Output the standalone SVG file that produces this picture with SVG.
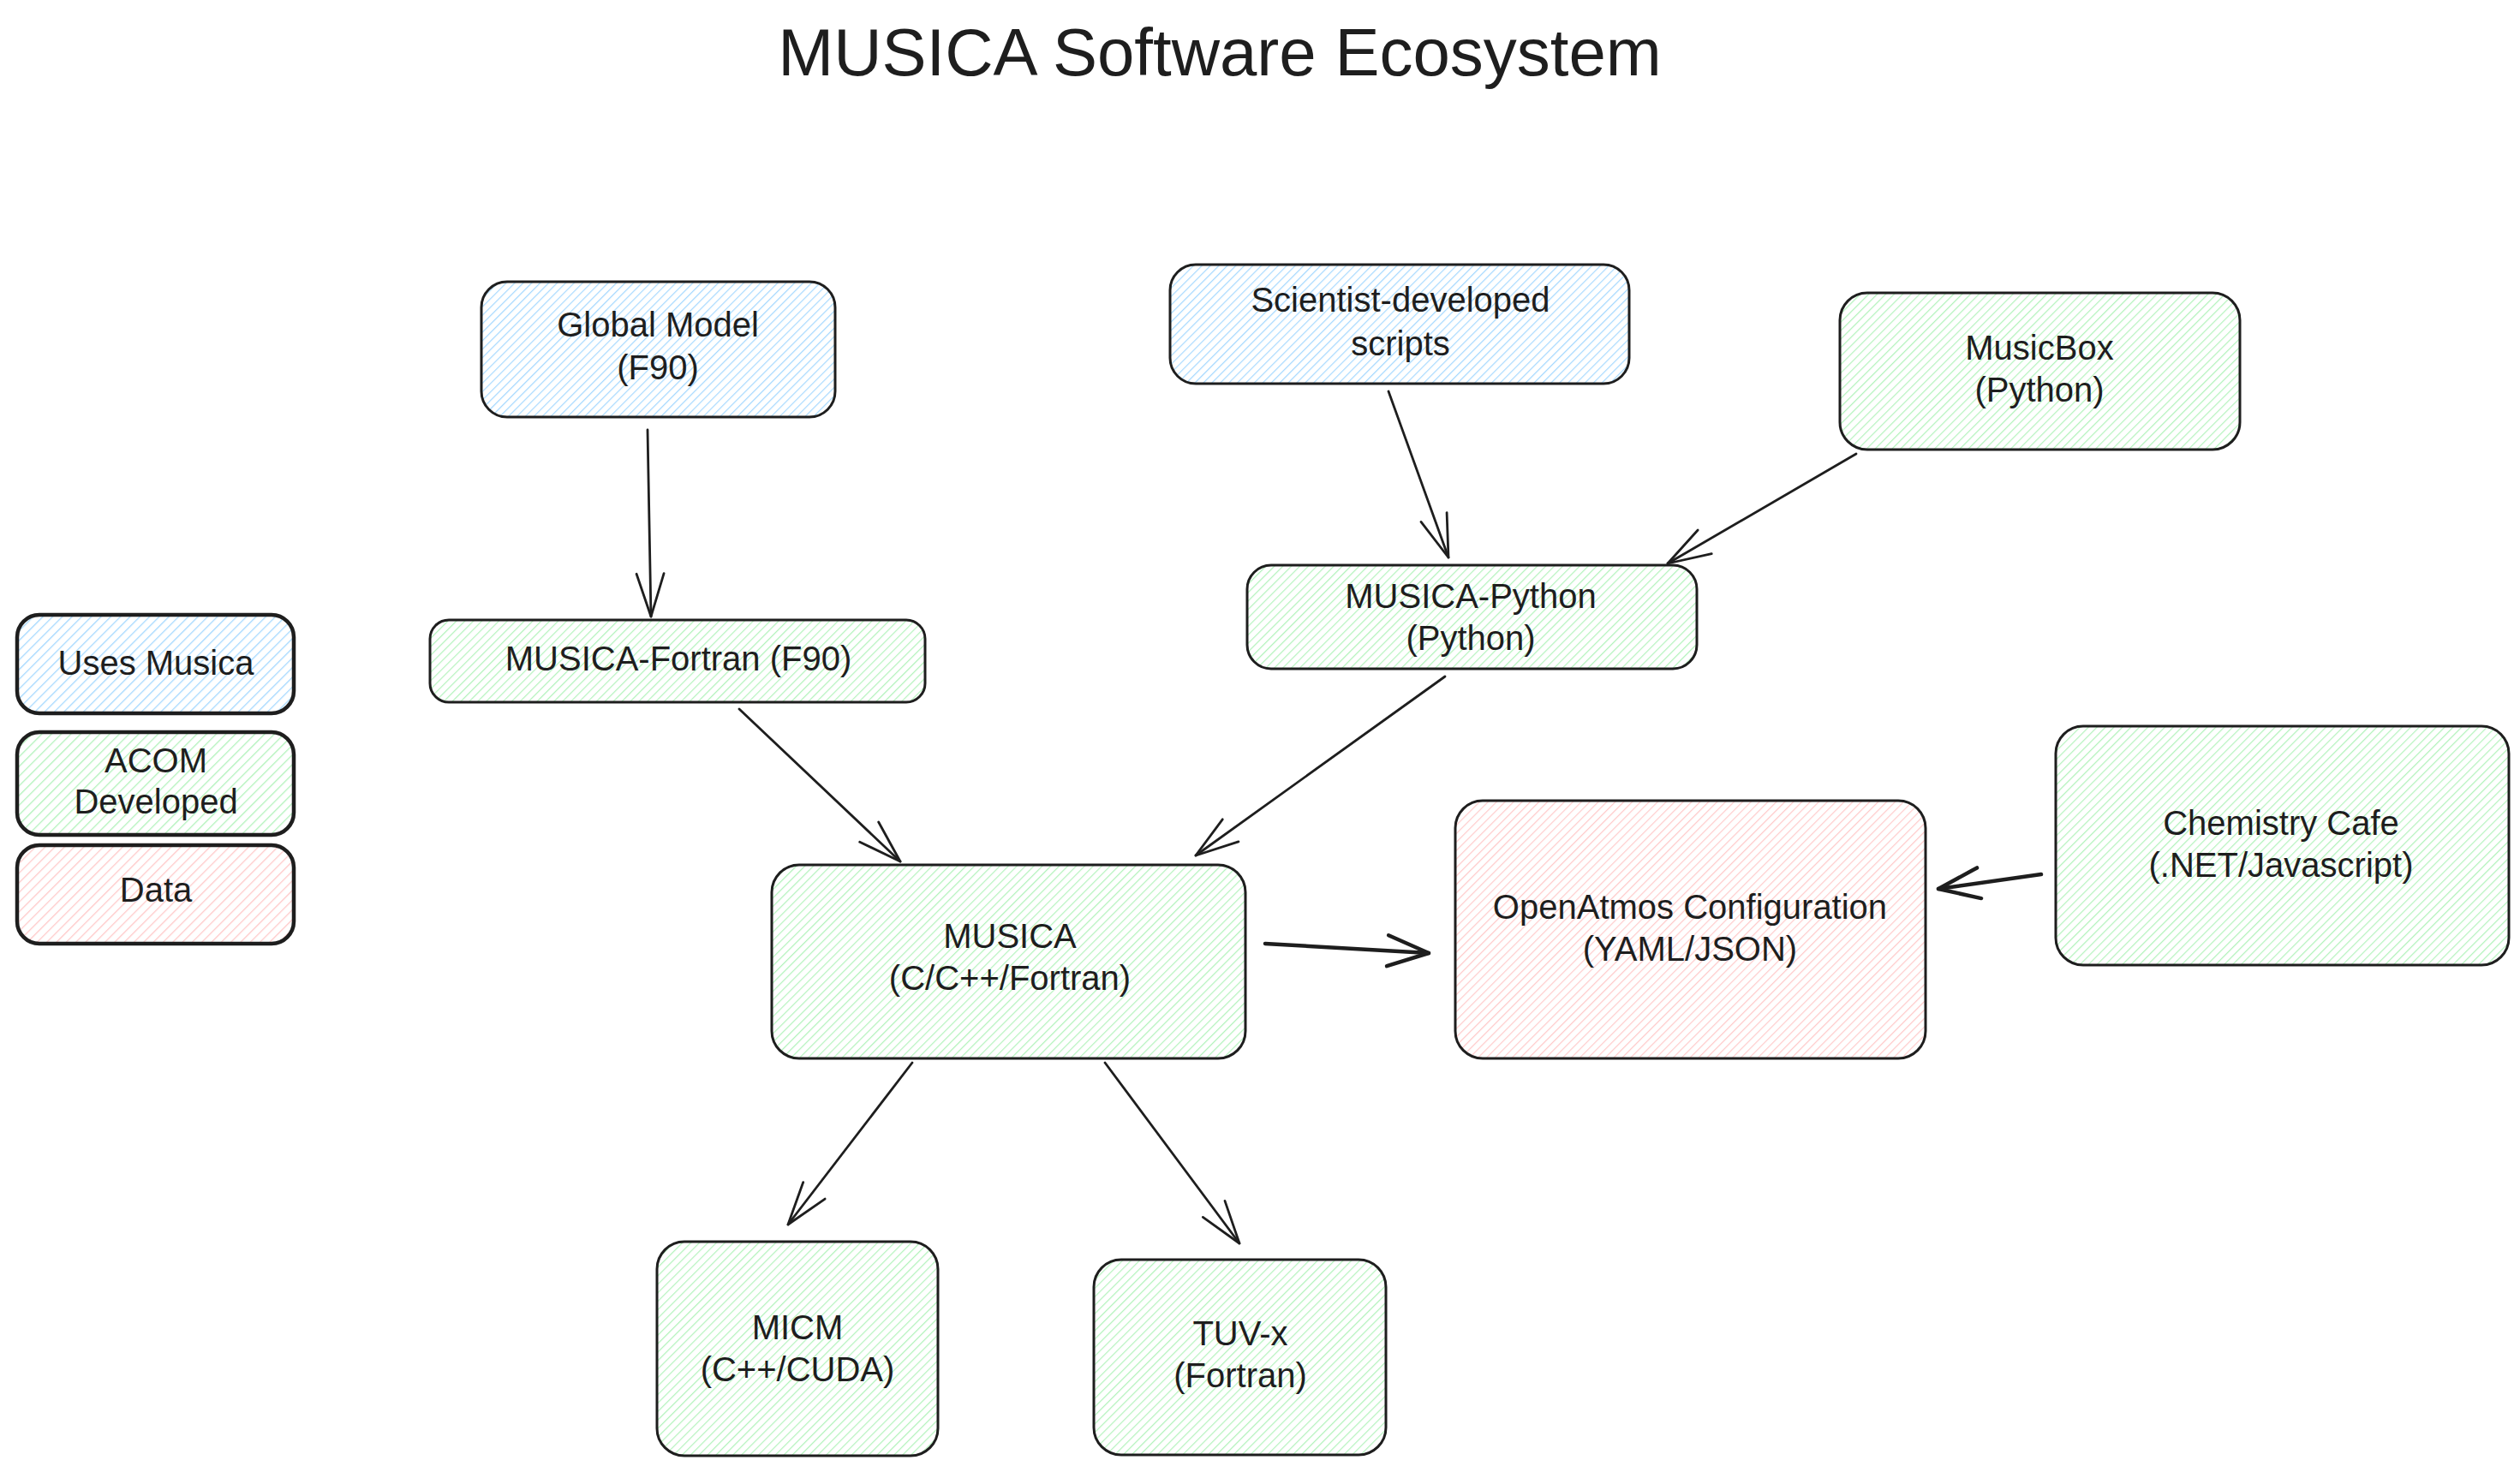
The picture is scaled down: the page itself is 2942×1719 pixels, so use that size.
<svg xmlns="http://www.w3.org/2000/svg" width="2942" height="1719" viewBox="0 0 2942 1719">
  <defs>
    <pattern id="hatch-blue" patternUnits="userSpaceOnUse" width="7" height="7" patternTransform="rotate(45)">
      <line x1="0" y1="0" x2="0" y2="7" stroke="#a5d8ff" stroke-width="2.4"/>
    </pattern>
    <pattern id="hatch-green" patternUnits="userSpaceOnUse" width="7" height="7" patternTransform="rotate(45)">
      <line x1="0" y1="0" x2="0" y2="7" stroke="#b2f2bb" stroke-width="2.4"/>
    </pattern>
    <pattern id="hatch-red" patternUnits="userSpaceOnUse" width="7" height="7" patternTransform="rotate(45)">
      <line x1="0" y1="0" x2="0" y2="7" stroke="#ffc9c9" stroke-width="2.4"/>
    </pattern>
    <pattern id="lhatch-blue" patternUnits="userSpaceOnUse" width="8" height="8" patternTransform="rotate(45)">
      <line x1="0" y1="0" x2="0" y2="8" stroke="#a5d8ff" stroke-width="2.6"/>
    </pattern>
    <pattern id="lhatch-green" patternUnits="userSpaceOnUse" width="8" height="8" patternTransform="rotate(45)">
      <line x1="0" y1="0" x2="0" y2="8" stroke="#b2f2bb" stroke-width="2.6"/>
    </pattern>
    <pattern id="lhatch-red" patternUnits="userSpaceOnUse" width="8" height="8" patternTransform="rotate(45)">
      <line x1="0" y1="0" x2="0" y2="8" stroke="#ffc9c9" stroke-width="2.6"/>
    </pattern>
    <marker id="ah" markerUnits="userSpaceOnUse" markerWidth="70" markerHeight="50" viewBox="-60 -25 70 50" refX="0" refY="0" orient="auto" overflow="visible">
      <path d="M-50,-16 L0,0 L-50,16" fill="none" stroke="#1e1e1e" stroke-width="2.8" stroke-linecap="round" stroke-linejoin="round"/>
    </marker>
    <marker id="ah-thick" markerUnits="userSpaceOnUse" markerWidth="70" markerHeight="50" viewBox="-60 -25 70 50" refX="0" refY="0" orient="auto" overflow="visible">
      <path d="M-48,-18 L0,0 L-48,18" fill="none" stroke="#1e1e1e" stroke-width="4.5" stroke-linecap="round" stroke-linejoin="round"/>
    </marker>
  </defs>
  <style>
    .node { stroke: #1e1e1e; stroke-width: 3; }
    .legend { stroke: #1e1e1e; stroke-width: 4.5; }
    .blue { fill: url(#hatch-blue); }
    .green { fill: url(#hatch-green); }
    .red { fill: url(#hatch-red); }
    .lblue { fill: url(#lhatch-blue); }
    .lgreen { fill: url(#lhatch-green); }
    .lred { fill: url(#lhatch-red); }
    .label { font-family: "Liberation Sans", Arial, sans-serif; font-size: 40px; fill: #1e1e1e; text-anchor: middle; }
    .title { font-family: "Liberation Sans", Arial, sans-serif; font-size: 78px; fill: #1e1e1e; text-anchor: middle; }
    .conn { fill: none; stroke: #1e1e1e; stroke-width: 2.8; stroke-linecap: round; marker-end: url(#ah); }
    .conn-thick { fill: none; stroke: #1e1e1e; stroke-width: 4.5; stroke-linecap: round; marker-end: url(#ah-thick); }
  </style>

  <rect x="0" y="0" width="2942" height="1719" fill="#ffffff"/>

  <g id="title">
    <text class="title" x="1424" y="88">MUSICA Software Ecosystem</text>
  </g>

  <g id="legend-uses-musica">
    <rect class="legend lblue" x="20" y="718" width="323" height="115" rx="26"/>
    <text class="label" x="182" y="788">Uses Musica</text>
  </g>
  <g id="legend-acom-developed">
    <rect class="legend lgreen" x="20" y="855" width="323" height="120" rx="26"/>
    <text class="label" x="182" y="902">ACOM</text>
    <text class="label" x="182" y="950">Developed</text>
  </g>
  <g id="legend-data">
    <rect class="legend lred" x="20" y="987" width="323" height="115" rx="26"/>
    <text class="label" x="182" y="1053">Data</text>
  </g>

  <g id="node-global-model">
    <rect class="node blue" x="562" y="329" width="413" height="158" rx="30"/>
    <text class="label" x="768" y="393">Global Model</text>
    <text class="label" x="768" y="443">(F90)</text>
  </g>
  <g id="node-scientist-scripts">
    <rect class="node blue" x="1366" y="309" width="536" height="139" rx="30"/>
    <text class="label" x="1635" y="364">Scientist-developed</text>
    <text class="label" x="1635" y="415">scripts</text>
  </g>
  <g id="node-musicbox">
    <rect class="node green" x="2148" y="342" width="467" height="183" rx="32"/>
    <text class="label" x="2381" y="420">MusicBox</text>
    <text class="label" x="2381" y="469">(Python)</text>
  </g>
  <g id="node-musica-python">
    <rect class="node green" x="1456" y="660" width="525" height="121" rx="28"/>
    <text class="label" x="1717" y="710">MUSICA-Python</text>
    <text class="label" x="1717" y="759">(Python)</text>
  </g>
  <g id="node-musica-fortran">
    <rect class="node green" x="502" y="724" width="578" height="96" rx="22"/>
    <text class="label" x="792" y="783">MUSICA-Fortran (F90)</text>
  </g>
  <g id="node-musica">
    <rect class="node green" x="901" y="1010" width="553" height="226" rx="32"/>
    <text class="label" x="1179" y="1107">MUSICA</text>
    <text class="label" x="1179" y="1156">(C/C++/Fortran)</text>
  </g>
  <g id="node-openatmos">
    <rect class="node red" x="1699" y="935" width="549" height="301" rx="32"/>
    <text class="label" x="1973" y="1073">OpenAtmos Configuration</text>
    <text class="label" x="1973" y="1122">(YAML/JSON)</text>
  </g>
  <g id="node-chemistry-cafe">
    <rect class="node green" x="2400" y="848" width="529" height="279" rx="32"/>
    <text class="label" x="2663" y="975">Chemistry Cafe</text>
    <text class="label" x="2663" y="1024">(.NET/Javascript)</text>
  </g>
  <g id="node-micm">
    <rect class="node green" x="767" y="1450" width="328" height="250" rx="32"/>
    <text class="label" x="931" y="1564">MICM</text>
    <text class="label" x="931" y="1613">(C++/CUDA)</text>
  </g>
  <g id="node-tuvx">
    <rect class="node green" x="1277" y="1471" width="341" height="228" rx="32"/>
    <text class="label" x="1448" y="1571">TUV-x</text>
    <text class="label" x="1448" y="1620">(Fortran)</text>
  </g>

  <g id="connectors">
    <path class="conn" d="M756,502 L760,720"/>
    <path class="conn" d="M1621,457 L1691,651"/>
    <path class="conn" d="M2167,530 L1947,658"/>
    <path class="conn" d="M863,828 L1051,1006"/>
    <path class="conn" d="M1687,790 L1396,999"/>
    <path class="conn-thick" d="M1477,1102 L1668,1113"/>
    <path class="conn-thick" d="M2383,1021 L2263,1038"/>
    <path class="conn" d="M1065,1241 L920,1430"/>
    <path class="conn" d="M1290,1241 L1447,1452"/>
  </g>
</svg>
